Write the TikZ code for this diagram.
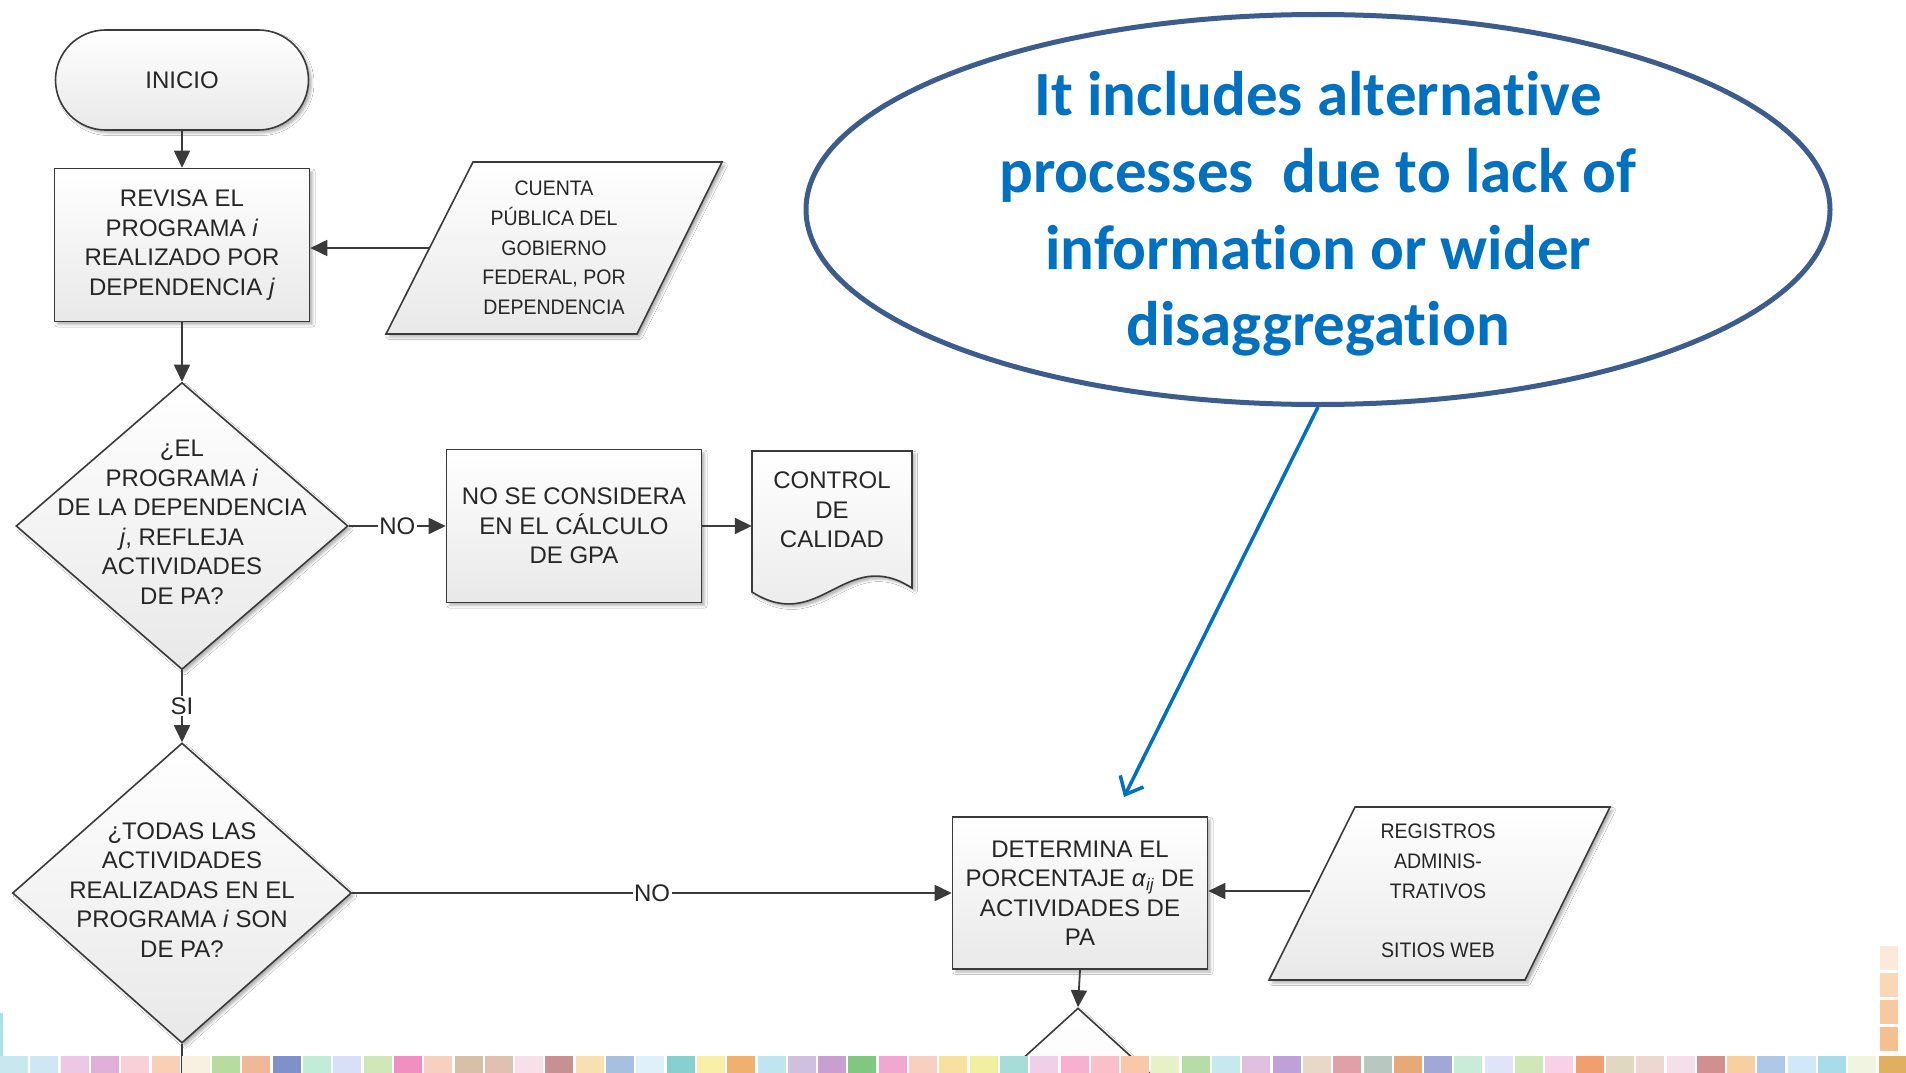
\documentclass[tikz,border=0pt]{standalone}
\usepackage{fontspec}
\setmainfont{Liberation Sans}
\newfontfamily\datafont{Liberation Sans}[FakeStretch=0.93]
\newfontfamily\calloutfont{Carlito}[Ligatures={NoCommon}]
\usepackage{xcolor}
\usepackage{tikz}
\usetikzlibrary{shapes.geometric}
\usetikzlibrary{arrows.meta}
\usetikzlibrary{shadows.blur}
\definecolor{flowline}{HTML}{3A3A3A}
\definecolor{flowtext}{HTML}{262626}
\definecolor{calloutline}{HTML}{3C5C8C}
\definecolor{callouttext}{HTML}{0070C0}

\begin{document}
\begin{tikzpicture}[x=1pt,y=-1pt,
  flowshape/.style={draw=flowline, line width=1.6pt, top color=white, bottom color=black!9,
    blur shadow={shadow xshift=3pt, shadow yshift=-3pt, shadow blur radius=2.5pt, shadow opacity=30}},
  procbox/.style={flowshape, rectangle, minimum width=255pt, minimum height=153pt, inner sep=0pt},
  decision/.style={flowshape, diamond, inner sep=0pt},
  flowtxt/.style={text=flowtext, align=center, font=\fontsize{24}{29.5}\selectfont, inner sep=0pt},
  datatxt/.style={text=flowtext, align=center, font=\datafont\fontsize{21}{29.7}\selectfont, inner sep=0pt},
  flowarrow/.style={draw=flowline, line width=1.8pt, -{Triangle[length=17pt,width=16pt]}},
  flowlabel/.style={fill=white, text=flowtext, font=\fontsize{24}{24}\selectfont, inner sep=1.5pt},
  callouttxt/.style={text=callouttext, align=center, font=\calloutfont\bfseries\fontsize{63}{76.7}\selectfont, inner sep=0pt},
  calloutarrow/.style={draw=callouttext, line width=3.5pt, -{Straight Barb[length=15pt,width=26pt]}}
]
\useasboundingbox[fill=white] (0,0) rectangle (1906,1073);

%Shape: Terminal
\node[flowshape, rectangle, rounded corners=50pt, minimum width=253pt, minimum height=100pt, flowtxt] (inicio) at (182,80) {INICIO};
%Shape: Rectangle
\node[procbox, flowtxt] (revisa) at (182,245) {REVISA EL\\PROGRAMA \textit{i}\\REALIZADO POR\\DEPENDENCIA \textit{j}};
%Shape: Parallelogram
\draw[flowshape] (473,162) -- (722,162) -- (637,334) -- (386,334) -- cycle ;
% Text Node
\node[datatxt, minimum width=249pt, minimum height=172pt] (cuenta) at (554,248) {CUENTA\\PÚBLICA DEL\\GOBIERNO\\FEDERAL, POR\\DEPENDENCIA};

%Shape: Diamond
\node[decision, minimum width=332pt, minimum height=287pt] (dec1) at (182,526) {};
% Text Node
\node[flowtxt] (dec1txt) at (182,522) {¿EL\\PROGRAMA \textit{i}\\DE LA DEPENDENCIA\\\textit{j}, REFLEJA\\ACTIVIDADES\\DE PA?};
%Shape: Rectangle
\node[procbox, flowtxt] (nose) at (574,526) {NO SE CONSIDERA\\EN EL CÁLCULO\\DE GPA};
%Shape: Document
\draw[flowshape] (752,451) -- (912,451) -- (912,588) .. controls (845,545) and (820,635) .. (752,592) -- cycle ;
% Text Node
\node[flowtxt, minimum width=160pt, minimum height=118pt] (ctrl) at (832,510) {CONTROL\\DE\\CALIDAD};

%Shape: Diamond
\node[decision, minimum width=339pt, minimum height=300pt] (dec2) at (182,893) {};
% Text Node
\node[flowtxt] (dec2txt) at (182,890) {¿TODAS LAS\\ACTIVIDADES\\REALIZADAS EN EL\\PROGRAMA \textit{i} SON\\DE PA?};
%Shape: Rectangle
\node[procbox, flowtxt, minimum height=152pt] (determ) at (1080,893) {DETERMINA EL\\PORCENTAJE \textit{α}\textsubscript{\textit{ij}} DE\\ACTIVIDADES DE\\PA};
%Shape: Parallelogram
\draw[flowshape] (1355,807) -- (1610,807) -- (1525,980) -- (1269,980) -- cycle ;
% Text Node
\node[datatxt, minimum width=255pt, minimum height=173pt] (regis) at (1438,891) {REGISTROS\\ADMINIS-\\TRATIVOS\\\mbox{}\\SITIOS WEB};
%Shape: Diamond
\node[decision, minimum width=330pt, minimum height=300pt] (dec3) at (1078,1158) {};

% Connectors
\draw[flowarrow] (inicio.south) -- (revisa.north);
\draw[flowarrow] (cuenta.west) -- (cuenta.west -| revisa.east);
\draw[flowarrow] (revisa.south) -- (dec1.north);
\draw[flowarrow] (dec1.east) -- node[flowlabel] {NO} (nose.west);
\draw[flowarrow] (nose.east) -- (nose.east -| ctrl.west);
\draw[flowarrow] (dec1.south) -- node[flowlabel] {SI} (dec2.north);
\draw[flowarrow] (dec2.east) -- node[flowlabel] {NO} (determ.west);
\draw[flowarrow] (regis.west) -- (regis.west -| determ.east);
\draw[flowarrow] (determ.south) -- (dec3.north);
\coordinate (exit) at (182,1073);
\draw[draw=flowline, line width=1.8pt] (dec2.south) -- (exit);

%Shape: Ellipse
\node[draw=calloutline, line width=5pt, fill=white, ellipse, minimum width=1024pt, minimum height=390pt, inner sep=0pt] (callout) at (1318,209.5) {};
% Text Node
\node[callouttxt] (callouttext) at (1318,214) {It includes alternative\\processes~ due to lack of\\information or wider\\disaggregation};
\coordinate (tip) at (1124,797);
\draw[calloutarrow] (callout.south) -- (tip);

% Stripe
\foreach \c [count=\i from 0] in {C8E8F0,CFE6F5,ECC8E4,E0B0D8,F8D0D8,F8D0B8,F8F0E0,B8DCA0,F0B898,8090C8,C0ECD8,D8E0F8,D0E8B8,F090C0,F8D0C0,D8C0A8,E0C0B0,F8E0E8,C89090,F8E0B0,A8C0E0,E0F0F8,88D0D0,F8F0A8,F0B070,C0E4F0,D0C0E0,C8A0D0,80C880,F0A8D0,F8D0C0,F8E0A0,F0F0A0,A8DCD8,F0D0E8,F8B0D0,F8C0C8,F8C8A8,E8F0C8,B8DCA8,C8E8F0,E0C0E0,C0A0D8,E8D8C8,E0A0A8,B8C8C0,E8A878,A0A8D8,C8ECD8,E0E4F8,D0E8B8,F8D0E8,F0A070,E0D8C0,ECD8D0,F4E0E8,D09090,F8D0A0,B0C8E8,D0E8F8,A8DCE8,F0F4E0,E0B060}{
  \definecolor{stripe}{HTML}{\c}
  \fill[stripe] (\i*30.3,1056) rectangle ++(28,17);
}
\foreach \c [count=\i from 0] in {FBEADB,F8D8B8,F8C8A0,F5C090}{
  \definecolor{stripe}{HTML}{\c}
  \fill[stripe] (1880,946+\i*27) rectangle ++(18,24);
}
\fill[fill={rgb,255:red,168;green,224;blue,232}] (0,1013) rectangle (3,1056);

\end{tikzpicture}
\end{document}
